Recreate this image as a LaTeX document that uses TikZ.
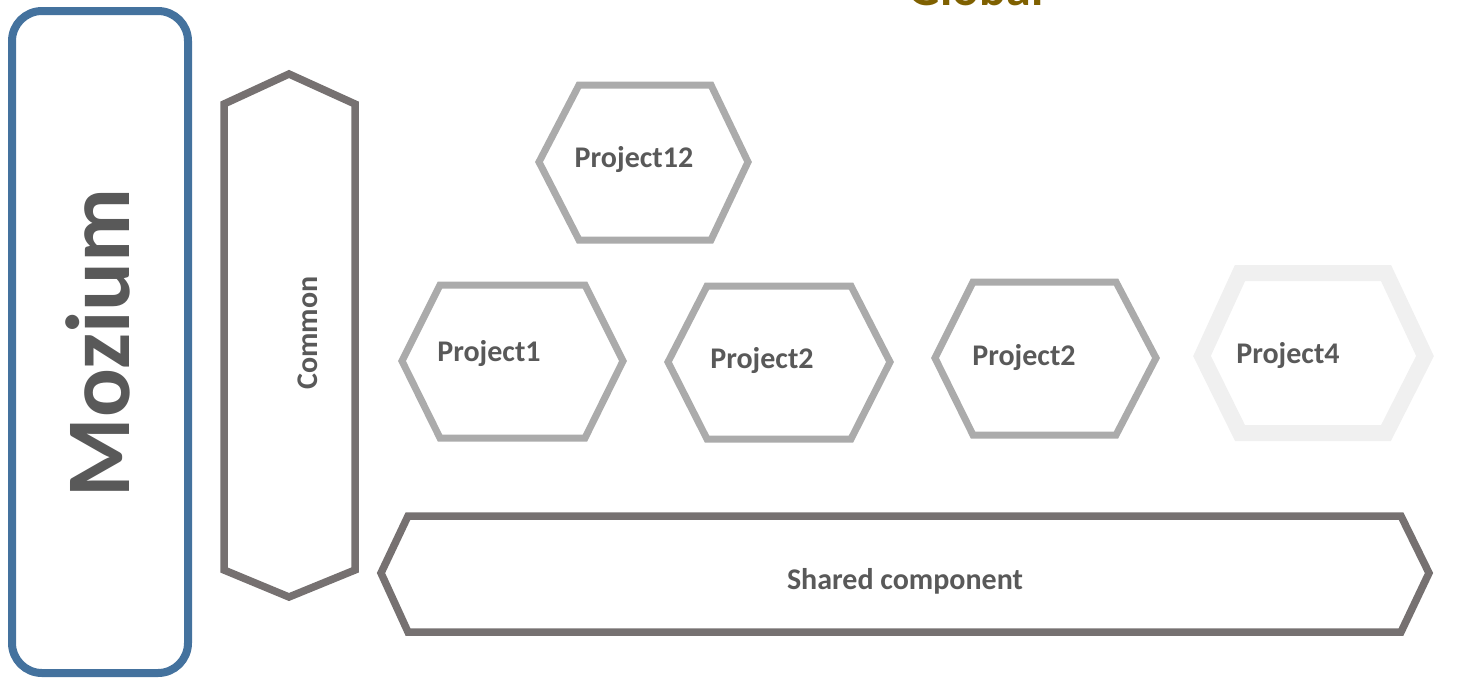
\documentclass[tikz,border=0pt]{standalone}
\usepackage{fontspec}
\setmainfont{Carlito}
\definecolor{mozblue}{HTML}{44729E}
\definecolor{darkgraybox}{HTML}{767171}
\definecolor{projgray}{HTML}{ABABAB}
\definecolor{faintgray}{HTML}{F0F0F0}
\definecolor{txtgray}{HTML}{595959}
\definecolor{olive}{HTML}{7F6000}
\tikzset{
  projbox/.style={draw=projgray, line width=7pt, line join=miter},
  darkbox/.style={draw=darkgraybox, line width=7.5pt, line join=miter},
  lbl/.style={text=txtgray, font=\fontsize{30}{32}\selectfont\bfseries, inner sep=0pt},
}
\begin{document}
\begin{tikzpicture}[x=1pt,y=-1pt]
\useasboundingbox (0,0) rectangle (1462,686);
% Global title (cut off at top)
\node[text=olive, font=\fontsize{50}{55}\selectfont\bfseries, anchor=base, inner sep=0pt] (global) at (976,5) {Global};
% Mozium
\draw[draw=mozblue, line width=8pt, rounded corners=30pt] (12,11) rectangle (188,673);
\node[text=txtgray, font=\fontsize{91}{95}\selectfont\bfseries, rotate=90, inner sep=0pt] (mozium) at (98,343) {Mozium};
% Common
\draw[darkbox] (289,74) -- (355,104) -- (355,570) -- (289,597) -- (224,570) -- (224,104) -- cycle;
\node[lbl, font=\fontsize{30}{32}\selectfont\bfseries, rotate=90] (common) at (308,333) {Common};
% Shared component
\draw[darkbox] (381,573) -- (408,516) -- (1401,516) -- (1429,573) -- (1401,632) -- (408,632) -- cycle;
\node[lbl] (shared) at (905,581) {Shared component};
% Project12
\draw[projbox] (539,162) -- (579,85) -- (711,85) -- (748,162) -- (711,240) -- (579,240) -- cycle;
\node[lbl] (p12) at (634,160) {Project12};
% Project1
\draw[projbox] (402,361) -- (440,285) -- (585,285) -- (623,361) -- (585,438) -- (440,438) -- cycle;
\node[lbl] (p1) at (489,354) {Project1};
% Project2 (a)
\draw[projbox] (668,362) -- (707,286) -- (851,286) -- (890,362) -- (851,439) -- (707,439) -- cycle;
\node[lbl] (p2a) at (762,361) {Project2};
% Project2 (b)
\draw[projbox] (935,358) -- (973,282) -- (1116,282) -- (1156,358) -- (1116,435) -- (973,435) -- cycle;
\node[lbl] (p2b) at (1024,358) {Project2};
% Project4
\draw[draw=faintgray, line width=16pt] (1202,356) -- (1240,273) -- (1386,273) -- (1425,356) -- (1386,433) -- (1240,433) -- cycle;
\node[lbl] (p4) at (1288,356) {Project4};
\end{tikzpicture}
\end{document}
